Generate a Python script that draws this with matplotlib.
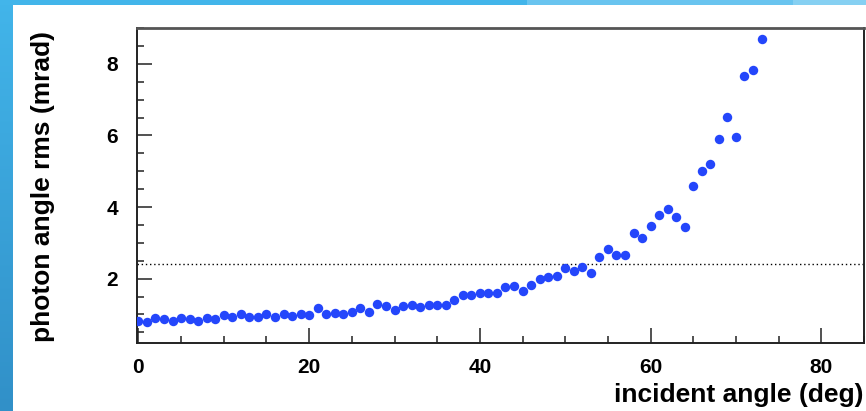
import numpy as np
import matplotlib
matplotlib.use("Agg")
import matplotlib.pyplot as plt
from matplotlib.patches import Rectangle
from matplotlib.ticker import MultipleLocator

# photon angle resolution vs. incident angle
incident_angle = list(range(74))
photon_rms = [0.83, 0.78, 0.91, 0.875, 0.83, 0.91, 0.875, 0.81, 0.89, 0.87,
              0.97, 0.94, 1.02, 0.93, 0.93, 1.00, 0.92, 1.01, 0.96, 1.02,
              0.98, 1.17, 1.02, 1.05, 1.00, 1.07, 1.18, 1.06, 1.29, 1.23,
              1.12, 1.24, 1.25, 1.20, 1.27, 1.27, 1.27, 1.41, 1.54, 1.55,
              1.60, 1.60, 1.60, 1.76, 1.80, 1.66, 1.82, 2.00, 2.05, 2.07,
              2.31, 2.21, 2.33, 2.15, 2.61, 2.82, 2.66, 2.66, 3.27, 3.13,
              3.46, 3.77, 3.94, 3.72, 3.45, 4.60, 5.01, 5.19, 5.89, 6.52,
              5.95, 7.66, 7.82, 8.70]
threshold = 2.4
x_ticks = [0, 20, 40, 60, 80]
y_ticks = [2, 4, 6, 8]

W, H = 866, 411
fig = plt.figure(figsize=(W / 100, H / 100), dpi=100)
fig.patch.set_facecolor("white")

# slide decoration: blue bands on the left and top edges
band = fig.add_axes([0, 0, 13 / W, 1], zorder=-5)
grad = np.linspace(0, 1, 256)[:, None]
top_col = np.array([0x42, 0xb5, 0xea]) / 255
bot_col = np.array([0x31, 0x90, 0xc8]) / 255
img = (top_col[None, None, :] * (1 - grad[..., None]) + bot_col[None, None, :] * grad[..., None])
band.imshow(img, aspect="auto", extent=[0, 1, 0, 1], origin="upper")
band.set_axis_off()

for x0, x1, c in [(0, 527, "#42b5ea"), (527, 793, "#69c4ef"), (793, W, "#86d0f2")]:
    fig.patches.append(Rectangle((x0 / W, 1 - 5 / H), (x1 - x0) / W, 5 / H,
                                 transform=fig.transFigure, facecolor=c,
                                 edgecolor="none", zorder=-4))

left, right, bottom, top = 137.3, 864.0, 342.7, 28.0
ax = fig.add_axes([left / W, 1 - bottom / H, (right - left) / W, (bottom - top) / H])

ax.plot(incident_angle, photon_rms, "o", color="#2446fb", markersize=6.8,
        markeredgewidth=0, zorder=3)
ax.axhline(threshold, color="black", linestyle=(0, (1, 2)), linewidth=1, zorder=2)

ax.set_xlim(-0.13, 85)
ax.set_ylim(0.21, 9.0)
ax.set_xticks(x_ticks)
ax.set_yticks(y_ticks)
ax.xaxis.set_minor_locator(MultipleLocator(5))
ax.yaxis.set_minor_locator(MultipleLocator(0.5))

font = "Liberation Sans"
ax.tick_params(which="both", direction="in", top=False, right=False,
               width=1.1, color="#222222")
ax.tick_params(which="major", length=10.5)
ax.tick_params(which="minor", length=5.2)
ax.tick_params(axis="x", which="major", pad=11)
ax.tick_params(axis="y", which="major", pad=14)
for lab in ax.get_xticklabels() + ax.get_yticklabels():
    lab.set_fontfamily(font)
    lab.set_fontweight("bold")
    lab.set_fontsize(15)

for s in ax.spines.values():
    s.set_linewidth(1.4)
    s.set_color("#222222")
ax.spines["top"].set_color("#555555")
ax.spines["top"].set_linewidth(2)

fig.text(863 / W, 1 - 402 / H, "incident angle (deg)", ha="right", va="baseline",
         fontfamily=font, fontweight="bold", fontsize=19)
fig.text(43 / W, 1 - 186 / H, "photon angle rms (mrad)", rotation=90,
         ha="center", va="center", fontfamily=font, fontweight="bold", fontsize=19)

fig.savefig("out.png", dpi=100)
